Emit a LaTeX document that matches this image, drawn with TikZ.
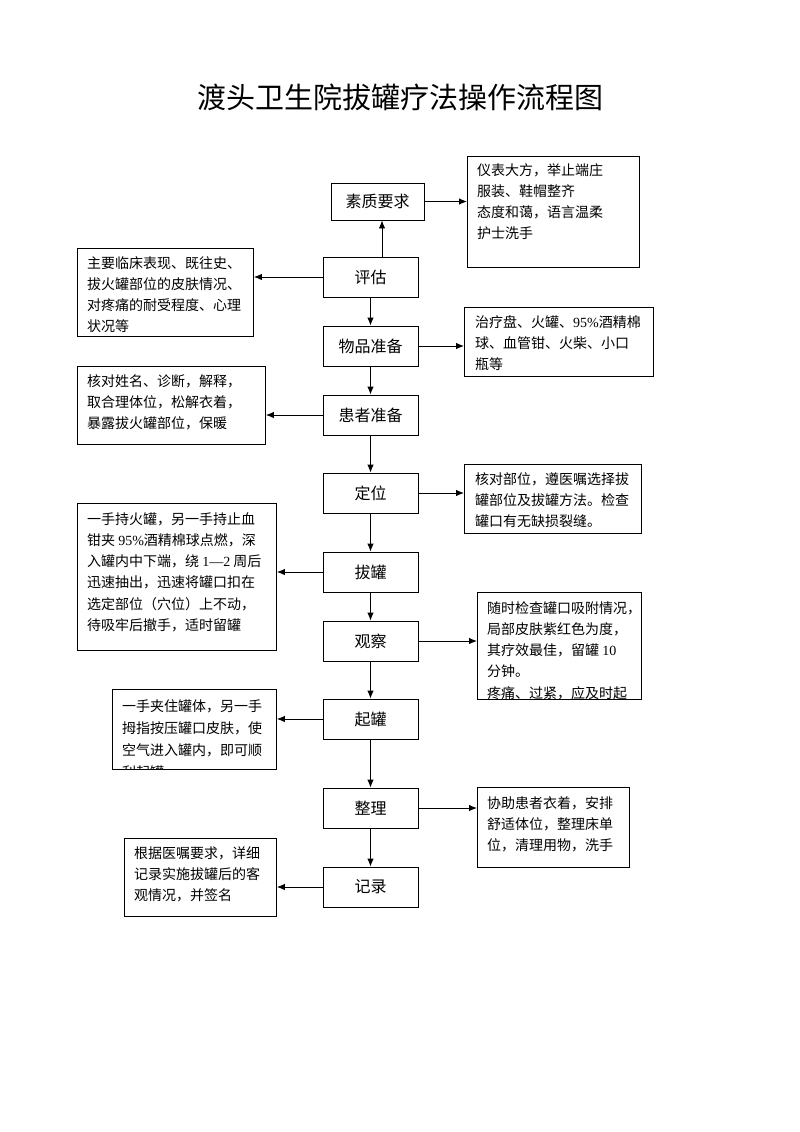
\documentclass[tikz,border=0pt]{standalone}
\usepackage{fontspec}
\newfontfamily\cjk{Noto Sans CJK SC}
\newfontfamily\lat{Liberation Serif}
\usetikzlibrary{arrows.meta}
\begin{document}
\begin{tikzpicture}[x=1pt,y=-1pt,
 mainbox/.style={draw, line width=0.9pt, minimum width=95pt, minimum height=40pt, inner sep=0pt, font=\cjk\fontsize{16}{18}\selectfont},
 sidebox/.style={draw, line width=0.9pt, inner sep=0pt, anchor=north west},
 sidetext/.style={anchor=north west, inner sep=0pt, align=left, font=\cjk\fontsize{14}{21.3}\selectfont},
 arr/.style={-{Latex[length=8pt,width=6.5pt]}, line width=0.9pt}]
\useasboundingbox[fill=white] (0,0) rectangle (800,1132);
\node[font=\cjk\fontsize{29}{32}\selectfont] (title) at (400,97) {渡头卫生院拔罐疗法操作流程图};

% main boxes
\node[mainbox, minimum width=93pt, minimum height=37pt] (q) at (377.5,201.5) {素质要求};
\node[mainbox] (e) at (370.5,277) {评估};
\node[mainbox] (w) at (370.5,346) {物品准备};
\node[mainbox] (h) at (370.5,415) {患者准备};
\node[mainbox] (d) at (370.5,493) {定位};
\node[mainbox] (b) at (370.5,572) {拔罐};
\node[mainbox] (g) at (370.5,641) {观察};
\node[mainbox] (k) at (370.5,719) {起罐};
\node[mainbox] (z) at (370.5,808) {整理};
\node[mainbox] (j) at (370.5,887) {记录};

% side boxes
\node[sidebox, minimum width=172pt, minimum height=111pt] (r1) at (467,156) {};
\node[sidetext] (r1t) at (477,163) {仪表大方，举止端庄\\服装、鞋帽整齐\\态度和蔼，语言温柔\\护士洗手};

\node[sidebox, minimum width=176pt, minimum height=88pt] (l1) at (77,248) {};
\node[sidetext] (l1t) at (87,256) {主要临床表现、既往史、\\拔火罐部位的皮肤情况、\\对疼痛的耐受程度、心理\\状况等};

\node[sidebox, minimum width=189pt, minimum height=69pt] (r2) at (464,307) {};
\node[sidetext] (r2t) at (475,315) {治疗盘、火罐、{\lat 95\%}酒精棉\\球、血管钳、火柴、小口\\瓶等};

\node[sidebox, minimum width=188pt, minimum height=78pt] (l2) at (77,366) {};
\node[sidetext] (l2t) at (87,374) {核对姓名、诊断，解释，\\取合理体位，松解衣着，\\暴露拔火罐部位，保暖};

\node[sidebox, minimum width=177pt, minimum height=69pt] (r3) at (464,464) {};
\node[sidetext] (r3t) at (475,472) {核对部位，遵医嘱选择拔\\罐部位及拔罐方法。检查\\罐口有无缺损裂缝。};

\node[sidebox, minimum width=199pt, minimum height=147pt] (l3) at (77,503) {};
\node[sidetext] (l3t) at (87,512) {一手持火罐，另一手持止血\\钳夹 {\lat 95\%}酒精棉球点燃，深\\入罐内中下端，绕 {\lat 1—2} 周后\\迅速抽出，迅速将罐口扣在\\选定部位（穴位）上不动，\\待吸牢后撤手，适时留罐};

\node[sidebox, minimum width=164pt, minimum height=107pt] (r4) at (477,592) {};
\begin{scope}
\clip (r4.north west) rectangle (r4.south east);
\node[sidetext] (r4t) at (487,601) {随时检查罐口吸附情况，\\局部皮肤紫红色为度，\\其疗效最佳，留罐 {\lat 10}\\分钟。\\疼痛、过紧，应及时起};
\end{scope}

\node[sidebox, minimum width=164pt, minimum height=80pt] (l4) at (112,689) {};
\begin{scope}
\clip (l4.north west) rectangle (l4.south east);
\node[sidetext, font=\cjk\fontsize{14}{22}\selectfont] (l4t) at (122,699) {一手夹住罐体，另一手\\拇指按压罐口皮肤，使\\空气进入罐内，即可顺\\利起罐};
\end{scope}

\node[sidebox, minimum width=152pt, minimum height=80pt] (r5) at (477,787) {};
\node[sidetext] (r5t) at (487,796) {协助患者衣着，安排\\舒适体位，整理床单\\位，清理用物，洗手};

\node[sidebox, minimum width=152pt, minimum height=78pt] (l5) at (124,838) {};
\node[sidetext] (l5t) at (134,846) {根据医嘱要求，详细\\记录实施拔罐后的客\\观情况，并签名};

% connectors
\draw[arr] ([xshift=11.5pt]e.north) -- ([xshift=11.5pt]e.north |- q.south);
\draw[arr] (q.east) -- (q.east -| r1.west);
\draw[arr] (e.west) -- (e.west -| l1.east);
\draw[arr] (e.south) -- (w.north);
\draw[arr] (w.east) -- (w.east -| r2.west);
\draw[arr] (w.south) -- (h.north);
\draw[arr] (h.west) -- (h.west -| l2.east);
\draw[arr] (h.south) -- (d.north);
\draw[arr] (d.east) -- (d.east -| r3.west);
\draw[arr] (d.south) -- (b.north);
\draw[arr] (b.west) -- (b.west -| l3.east);
\draw[arr] (b.south) -- (g.north);
\draw[arr] (g.east) -- (g.east -| r4.west);
\draw[arr] (g.south) -- (k.north);
\draw[arr] (k.west) -- (k.west -| l4.east);
\draw[arr] (k.south) -- (z.north);
\draw[arr] (z.east) -- (z.east -| r5.west);
\draw[arr] (z.south) -- (j.north);
\draw[arr] (j.west) -- (j.west -| l5.east);
\end{tikzpicture}
\end{document}
